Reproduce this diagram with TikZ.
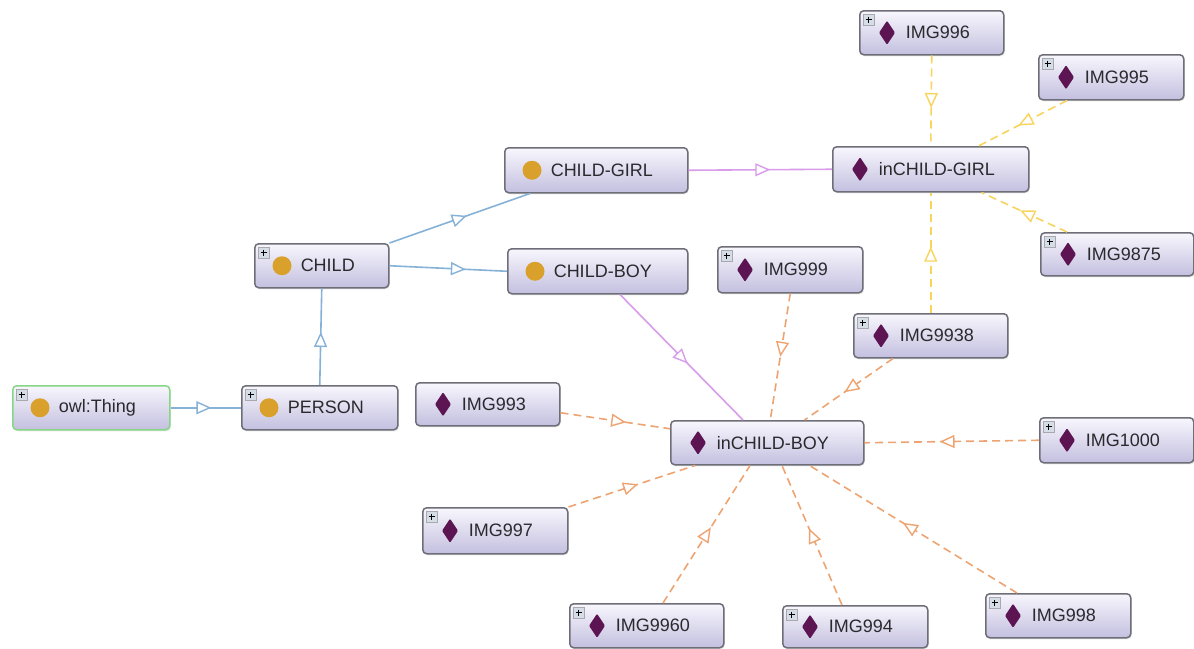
\documentclass[tikz,border=0pt]{standalone}
\usepackage{fontspec}
\setmainfont{Liberation Sans}
\usetikzlibrary{arrows.meta,decorations.markings,calc,shadows}
\definecolor{boxtop}{HTML}{F8F7FD}
\definecolor{boxbot}{HTML}{C3BFDF}
\definecolor{boxline}{HTML}{6E6E78}
\definecolor{gold}{HTML}{D9A12B}
\definecolor{plum}{HTML}{5C1552}
\definecolor{eblue}{HTML}{86B2D8}
\definecolor{eviolet}{HTML}{D89CEA}
\definecolor{eyellow}{HTML}{F8D45C}
\definecolor{eorange}{HTML}{EEA472}
\definecolor{tgreen}{HTML}{86D686}
\definecolor{txt}{HTML}{2A2A2E}
\definecolor{plusfill}{HTML}{D5DDE6}
\tikzset{
  box/.style={rectangle, rounded corners=4pt, draw=boxline, line width=1.5pt,
    top color=boxtop, bottom color=boxbot, inner xsep=0pt, inner ysep=0pt,
    align=left, font=\fontsize{18}{20}\selectfont, text=txt, anchor=north west,
    drop shadow={opacity=0.18, shadow xshift=1pt, shadow yshift=-1.5pt}},
  sub/.style={line width=1.6pt, postaction={decorate},
    decoration={markings, mark=at position #1 with {\arrow{Triangle[length=15pt, width=13pt, fill=white, line width=1.4pt]}}}},
  sub/.default=0.55,
  dsh/.style={dash pattern=on 8pt off 5pt}
}
\newcommand\obox[7][]{%
  \pgfmathsetmacro\bw{#5-#3}\pgfmathsetmacro\bh{#6-#4}%
  \node[box,#1,text width=\bw pt,minimum height=\bh pt] (#2) at (#3,#4) {\hspace*{46pt}#7};}
\newcommand\icirc[1]{\fill[gold] ($(#1.west)+(28,0)$) circle (9.5);}
\newcommand\idiam[1]{\fill[plum, rounded corners=1pt] ($(#1.west)+(28,-12)$) -- ++(8,12) -- ++(-8,12) -- ++(-8,-12) -- cycle;}
\newcommand\iplus[1]{\draw[boxline!60, fill=plusfill, line width=0.5pt] ($(#1.north west)+(4,4)$) rectangle ++(11,11);
  \draw[black, line width=0.8pt] ($(#1.north west)+(6.5,9.5)$) -- ++(6,0) ($(#1.north west)+(9.5,6.5)$) -- ++(0,6);}
\begin{document}
\begin{tikzpicture}[x=1pt,y=-1pt]
\useasboundingbox (0,0) rectangle (1194,648);
\fill[white] (0,0) rectangle (1194,648);
% nodes
\obox[draw=tgreen]{thing}{12}{385}{169}{429}{owl:Thing}
\obox{person}{241}{385}{397}{429}{PERSON}
\obox{child}{254}{243}{388}{287}{CHILD}
\obox{cg}{504}{147}{687}{192}{CHILD-GIRL}
\obox{cb}{507}{248}{687}{293}{CHILD-BOY}
\obox{icg}{832}{146}{1028}{191}{inCHILD-GIRL}
\obox{i996}{859}{10}{1003}{54}{IMG996}
\obox{i995}{1038}{54}{1183}{99}{IMG995}
\obox{i9875}{1040}{232}{1193}{275}{IMG9875}
\obox{i9938}{853}{313}{1007}{357}{IMG9938}
\obox{i999}{717}{246}{862}{292}{IMG999}
\obox{i993}{415}{382}{559}{425}{IMG993}
\obox{icb}{670}{420}{863}{464}{inCHILD-BOY}
\obox{i1000}{1039}{417}{1193}{462}{IMG1000}
\obox{i997}{422}{507}{567}{553}{IMG997}
\obox{i9960}{569}{603}{723}{647}{IMG9960}
\obox{i994}{782}{605}{927}{647}{IMG994}
\obox{i998}{985}{593}{1130}{637}{IMG998}
% icons
\icirc{thing}\icirc{person}\icirc{child}\icirc{cg}\icirc{cb}
\idiam{icg}\idiam{i996}\idiam{i995}\idiam{i9875}\idiam{i9938}\idiam{i999}
\idiam{i993}\idiam{icb}\idiam{i1000}\idiam{i997}\idiam{i9960}\idiam{i994}\idiam{i998}
\iplus{thing}\iplus{person}\iplus{child}\iplus{i996}\iplus{i995}\iplus{i9875}
\iplus{i9938}\iplus{i999}\iplus{i1000}\iplus{i997}\iplus{i9960}\iplus{i994}\iplus{i998}
% class edges
\draw[sub=0.58, eblue] (thing.east) -- (person.west);
\draw[sub=0.55, eblue] (person.north) -- (child.south);
\draw[sub=0.55, eblue] (child.north east) -- ([xshift=26pt]cg.south west);
\draw[sub=0.65, eblue] (child.east) -- (cb.west);
\draw[sub=0.57, eviolet] (cg.east) -- (icg.west);
\draw[sub=0.55, eviolet] ([xshift=113pt]cb.south west) -- ([xshift=73pt]icb.north west);
% individuals of inCHILD-GIRL
\draw[sub=0.58, eyellow, dsh] (i996.south) -- (icg.north);
\draw[sub=0.55, eyellow, dsh] ([xshift=29pt]i995.south west) -- ([xshift=-51pt]icg.north east);
\draw[sub=0.55, eyellow, dsh] ([xshift=27pt]i9875.north west) -- ([xshift=-48pt]icg.south east);
\draw[sub=0.55, eyellow, dsh] (i9938.north) -- (icg.south);
% individuals of inCHILD-BOY
\draw[sub=0.5, eorange, dsh] (i999.south) -- ([xshift=3pt]icb.north);
\draw[sub=0.55, eorange, dsh] ([xshift=40pt]i9938.south west) -- ([xshift=-60pt]icb.north east);
\draw[sub=0.6, eorange, dsh] ([yshift=-8.5pt]i993.east) -- ([yshift=14pt]icb.west);
\draw[sub=0.57, eorange, dsh] (i1000.west) -- (icb.east);
\draw[sub=0.55, eorange, dsh] (i997.north east) -- ([xshift=25pt]icb.south west);
\draw[sub=0.55, eorange, dsh] ([xshift=94pt]i9960.north west) -- ([xshift=80pt]icb.south west);
\draw[sub=0.55, eorange, dsh] ([xshift=60pt]i994.north west) -- ([xshift=112pt]icb.south west);
\draw[sub=0.55, eorange, dsh] ([xshift=32pt]i998.north west) -- ([xshift=-55pt]icb.south east);
\end{tikzpicture}
\end{document}
